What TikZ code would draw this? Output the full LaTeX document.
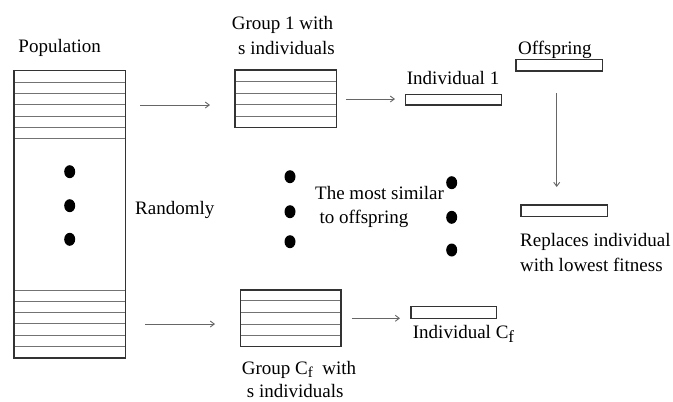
\documentclass[tikz,border=0pt]{standalone}
\usepackage{fontspec}
\setmainfont{Liberation Serif}
\usetikzlibrary{arrows.meta}
\newcommand{\subf}[1]{\raisebox{-0.45ex}{\fontsize{#1}{#1}\selectfont f}}
\begin{document}
\begin{tikzpicture}[x=1pt,y=-1pt,
  lbl/.style={inner sep=0pt,anchor=base west,font=\fontsize{19}{23}\selectfont},
  boxline/.style={draw=black!80,line width=1.4pt},
  strip/.style={draw=black!55,line width=0.9pt},
  arr/.style={draw=black!60,line width=0.9pt,-{Straight Barb[length=4pt,width=6pt]}},
  dot/.style={fill=black,draw=none}]
\useasboundingbox (0,0) rectangle (673,402);
% Population
\node[lbl] (poplbl) at (18.3,52.3) {Population};
\foreach \y in {82.3,93.6,104.9,116.2,127.5,138.8,290,301.3,312.6,323.9,335.2,346.5}
  \draw[strip] (14,\y) -- (125.7,\y);
\draw[boxline] (14,70.7) rectangle (125.7,358);
\foreach \y in {171.7,205.7,239.3} \fill[dot] (69.7,\y) ellipse (5.5 and 6.5);
\node[lbl] (rand) at (135,214) {Randomly};
% Group 1
\node[lbl] (g1lbla) at (231.7,29.5) {Group 1 with};
\node[lbl] (g1lblb) at (238,54.5) {s individuals};
\foreach \y in {81.7,93.3,104.7,116.2} \draw[strip] (235,\y) -- (336.7,\y);
\draw[boxline] (235,70) rectangle (336.7,127.7);
\coordinate (p1a) at (140,105);
\coordinate (p1b) at (210,105);
\draw[arr] (p1a) -- (p1b);
% Individual 1
\node[lbl] (i1lbl) at (406.7,84.3) {Individual 1};
\draw[boxline] (405.7,94.3) rectangle (501.7,105);
\coordinate (a1) at (346,99);
\coordinate (a2) at (395,99);
\draw[arr] (a1) -- (a2);
% Offspring
\node[lbl] (offlbl) at (518,54.5) {Offspring};
\draw[boxline] (516,59.3) rectangle (602.7,71);
\coordinate (v1) at (556.7,93.3);
\coordinate (v2) at (556.7,187);
\draw[arr] (v1) -- (v2);
% Replaces
\draw[boxline] (521,205) rectangle (607.3,216.7);
\node[lbl] (repa) at (520,246.7) {Replaces individual};
\node[lbl] (repb) at (520,271.7) {with lowest fitness};
% middle dots
\foreach \y in {176.7,211.7,241.7} \fill[dot] (290,\y) ellipse (5.5 and 6.5);
\foreach \y in {182.7,217.3,250} \fill[dot] (451.7,\y) ellipse (5.5 and 6.5);
\node[lbl] (sima) at (315,199) {The most similar};
\node[lbl] (simb) at (319.3,223.3) {to offspring};
% Group Cf
\foreach \y in {300.7,312.7,324,335.7} \draw[strip] (240.7,\y) -- (341,\y);
\draw[boxline] (240.7,290) rectangle (341,346.7);
\coordinate (p2a) at (145,324);
\coordinate (p2b) at (215,324);
\draw[arr] (p2a) -- (p2b);
\node[lbl] (gca) at (241.7,374) {Group C\subf{15}\ \ with};
\node[lbl] (gcb) at (246.7,397.5) {s individuals};
% Individual Cf
\draw[boxline] (411,306.7) rectangle (496.7,318.3);
\coordinate (b1) at (351.7,318.3);
\coordinate (b2) at (400,318.3);
\draw[arr] (b1) -- (b2);
\node[lbl] (iclbl) at (412.7,338.3) {Individual C\subf{17}};
\end{tikzpicture}
\end{document}
